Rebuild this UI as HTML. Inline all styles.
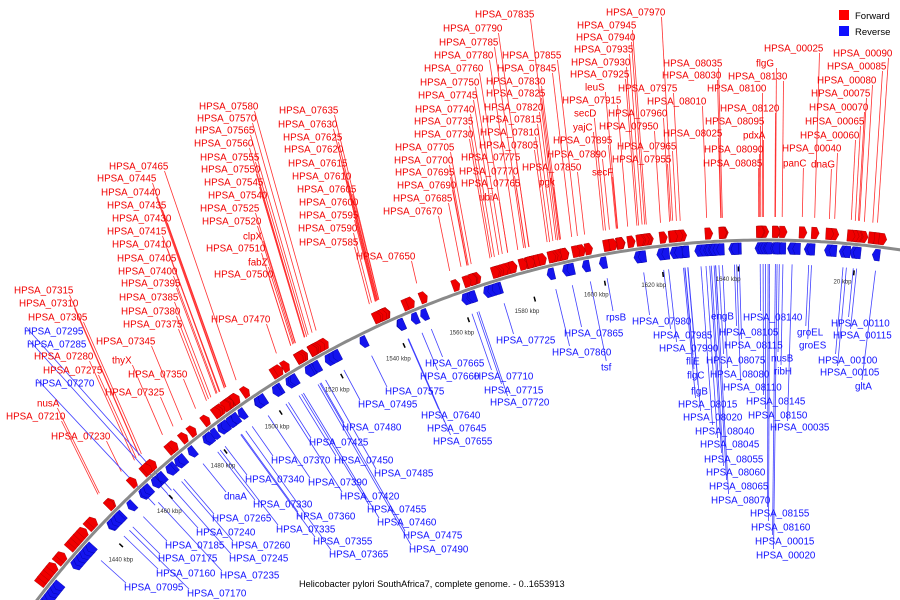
<!DOCTYPE html>
<html><head><meta charset="utf-8">
<style>
html,body{margin:0;padding:0;background:#fff;overflow:hidden;}
#wrap{position:relative;width:900px;height:600px;overflow:hidden;}
svg{overflow:hidden;display:block;}
svg text{font-family:"Liberation Sans",sans-serif;}
</style></head>
<body>
<div id="wrap">
<svg id="chart" width="900" height="600" viewBox="0 0 900 600" xmlns="http://www.w3.org/2000/svg">
<g id="lines"></g>
<g id="genes"></g>
<path id="backbone" fill="none" stroke="#8a8a8a" stroke-width="3"/>
<g id="ticks"></g>
<g id="labels"></g>
<g>
<rect x="839" y="10" width="10" height="10" fill="#ff0000"/>
<text x="855" y="19" font-size="9.5" fill="#000">Forward</text>
<rect x="839" y="26" width="10" height="10" fill="#1010ff"/>
<text x="855" y="35" font-size="9.5" fill="#000">Reverse</text>
</g>
<text x="299" y="587" font-size="9.2" fill="#000">Helicobacter pylori SouthAfrica7, complete genome. - 0..1653913</text>
</svg>
</div>
<script>
// gene label text, left x, center y
const redLabels = [
["HPSA_07835",475,14],["HPSA_07790",443,28],["HPSA_07785",439,42],["HPSA_07780",434,55],["HPSA_07760",424,68],
["HPSA_07750",420,82],["HPSA_07745",418,95],["HPSA_07740",415,109],["HPSA_07735",414,121],["HPSA_07730",414,134],
["HPSA_07705",395,147],["HPSA_07700",394,160],["HPSA_07695",395,172],["HPSA_07690",397,185],["HPSA_07685",393,198],
["HPSA_07670",383,211],["HPSA_07855",502,55],["HPSA_07845",497,68],["HPSA_07830",486,81],["HPSA_07825",486,93],
["HPSA_07820",484,107],["HPSA_07815",482,119],["HPSA_07810",480,132],["HPSA_07805",479,145],["HPSA_07775",461,157],
["HPSA_07770",459,171],["HPSA_07765",461,183],["ubiA",479,197],["HPSA_07850",522,167],["pgk",539,182],
["HPSA_07970",606,12],["HPSA_07945",577,25],["HPSA_07940",576,37],["HPSA_07935",574,49],["HPSA_07930",571,62],
["HPSA_07925",570,74],["leuS",585,87],["HPSA_07915",562,100],["secD",574,113],["yajC",573,127],
["HPSA_07895",553,140],["HPSA_07890",547,154],["secF",592,172],["HPSA_07975",618,88],["HPSA_07960",608,113],
["HPSA_07950",599,126],["HPSA_07965",617,146],["HPSA_07955",612,159],["HPSA_08010",647,101],["HPSA_08035",663,63],
["HPSA_08030",662,75],["HPSA_08025",663,133],["HPSA_00025",764,48],["flgG",756,63],["HPSA_08130",728,76],
["HPSA_08100",707,88],["HPSA_08120",720,108],["HPSA_08095",705,121],["pdxA",743,135],["HPSA_08090",704,149],
["HPSA_08085",703,163],["HPSA_00090",833,53],["HPSA_00085",827,66],["HPSA_00080",817,80],["HPSA_00075",811,93],
["HPSA_00070",809,107],["HPSA_00065",805,121],["HPSA_00060",800,135],["HPSA_00040",782,148],["panC",783,163],
["dnaG",811,164],["HPSA_07580",199,106],["HPSA_07570",197,118],["HPSA_07565",195,130],["HPSA_07560",194,143],
["HPSA_07555",200,157],["HPSA_07550",201,169],["HPSA_07545",204,182],["HPSA_07540",208,195],["HPSA_07525",200,208],
["HPSA_07520",202,221],["clpX",243,236],["HPSA_07510",206,248],["fabZ",248,262],["HPSA_07500",214,274],
["HPSA_07635",279,110],["HPSA_07630",278,124],["HPSA_07625",283,137],["HPSA_07620",284,149],["HPSA_07615",288,163],
["HPSA_07610",292,176],["HPSA_07605",297,189],["HPSA_07600",299,202],["HPSA_07595",299,215],["HPSA_07590",298,228],
["HPSA_07585",299,242],["HPSA_07650",356,256],["HPSA_07465",109,166],["HPSA_07445",97,178],["HPSA_07440",101,192],
["HPSA_07435",107,205],["HPSA_07430",112,218],["HPSA_07415",107,231],["HPSA_07410",112,244],["HPSA_07405",117,258],
["HPSA_07400",118,271],["HPSA_07395",121,283],["HPSA_07385",119,297],["HPSA_07380",121,311],["HPSA_07375",123,324],
["HPSA_07470",211,319],["HPSA_07315",14,290],["HPSA_07310",19,303],["HPSA_07305",28,317],["HPSA_07280",34,356],
["HPSA_07275",43,370],["HPSA_07345",96,341],["thyX",112,360],["HPSA_07350",128,374],["HPSA_07325",105,392],
["nusA",37,403],["HPSA_07210",6,416],["HPSA_07230",51,436]
];
const blueLabels = [
["HPSA_07295",24,331],["HPSA_07285",27,344],["HPSA_07270",35,383],
["HPSA_07495",358,404],["HPSA_07480",342,427],["HPSA_07425",309,442],["HPSA_07370",271,460],["HPSA_07450",334,460],
["HPSA_07485",374,473],["HPSA_07340",245,479],["HPSA_07390",308,482],["dnaA",224,496],["HPSA_07420",340,496],
["HPSA_07330",253,504],["HPSA_07455",367,509],["HPSA_07265",212,518],["HPSA_07360",296,516],["HPSA_07460",377,522],
["HPSA_07335",276,529],["HPSA_07240",196,532],["HPSA_07355",313,541],["HPSA_07475",403,535],["HPSA_07185",165,545],
["HPSA_07260",231,545],["HPSA_07365",329,554],["HPSA_07490",409,549],["HPSA_07175",158,558],["HPSA_07245",229,558],
["HPSA_07160",156,573],["HPSA_07235",220,575],["HPSA_07095",124,587],["HPSA_07170",187,593],["HPSA_07575",385,391],
["HPSA_07665",425,363],["HPSA_07660",420,376],["HPSA_07640",421,415],["HPSA_07645",427,428],["HPSA_07655",433,441],
["HPSA_07710",474,376],["HPSA_07715",484,390],["HPSA_07720",490,402],["HPSA_07725",496,340],["HPSA_07865",564,333],
["HPSA_07860",552,352],["tsf",601,367],["rpsB",606,317],["HPSA_07980",632,321],["HPSA_07985",653,335],
["HPSA_07990",659,348],["fliE",686,361],["flgC",687,375],["flgB",691,391],["HPSA_08015",678,404],
["HPSA_08020",683,417],["HPSA_08040",695,431],["HPSA_08045",700,444],["HPSA_08055",704,459],["HPSA_08060",706,472],
["HPSA_08065",709,486],["HPSA_08070",711,500],["engB",711,316],["HPSA_08140",743,317],["HPSA_08105",719,332],
["HPSA_08115",724,345],["HPSA_08075",706,360],["HPSA_08080",710,374],["HPSA_08110",723,387],["nusB",771,358],
["ribH",774,371],["HPSA_08145",746,401],["HPSA_08150",748,415],["HPSA_00035",770,427],["groEL",797,332],
["groES",799,345],["HPSA_08155",750,513],["HPSA_08160",751,527],["HPSA_00015",755,541],["HPSA_00020",756,555],
["HPSA_00110",831,323],["HPSA_00115",833,335],["HPSA_00100",818,360],["HPSA_00105",820,372],["gltA",855,386]
];
// unlabeled genes (angle from vertical, radians)
const extraRed = [-0.90,-0.895,-0.89,-0.885,-0.88,-0.87,-0.865,-0.85,-0.845,-0.84,-0.835,-0.83,-0.82,-0.815,-0.7,-0.695,-0.56,-0.555,-0.4,-0.395,-0.25,-0.245,0.12,0.125];
const extraBlue = [-0.93,-0.925,-0.92,-0.915,-0.91,-0.905,-0.9,-0.895,-0.89,-0.86,-0.855,-0.85,-0.845,-0.84,-0.835,-0.8,-0.795,-0.79,-0.75,-0.745,-0.7,-0.695,-0.64,-0.635,-0.59,-0.585,-0.5,-0.495,-0.49,-0.31,-0.305,-0.3,-0.22,-0.215,-0.14,-0.135,-0.1,-0.095,0.03,0.035,0.07,0.075];
const tickLabels = ["1440 kbp","1460 kbp","1480 kbp","1500 kbp","1520 kbp","1540 kbp","1560 kbp","1580 kbp","1600 kbp","1620 kbp","1640 kbp","20 kbp"];
const tickAngles = [-0.823,-0.745,-0.665,-0.589,-0.509,-0.431,-0.353,-0.275,-0.194,-0.128,-0.043,0.087];

const NS="http://www.w3.org/2000/svg";
const CX=766, CY=1158, R=918;
function P(t,d){ return [CX+(R+d)*Math.sin(t), CY-(R+d)*Math.cos(t)]; }
function angOf(x,y){ return Math.atan2(x-CX, CY-y); }
function mk(tag,attrs,parent){const e=document.createElementNS(NS,tag);for(const k in attrs)e.setAttribute(k,attrs[k]);parent.appendChild(e);return e;}

let d="";
for(let t=-1.0;t<=0.25;t+=0.004){const p=P(t,0);d+=(d?"L":"M")+p[0].toFixed(1)+" "+p[1].toFixed(1);}
document.getElementById('backbone').setAttribute('d',d);

const gG=document.getElementById('genes'), gL=document.getElementById('lines'), gT=document.getElementById('labels'), gK=document.getElementById('ticks');
const W=0.0055;
function gene(t,fwd){
  const d0=fwd?2.5:-2.5, d1=fwd?14:-14, a=t-W/2, b=t+W/2;
  const tip=fwd?b+0.003:a-0.003;
  let pts;
  if(fwd) pts=[P(a,d0),P(b,d0),P(tip,(d0+d1)/2),P(b,d1),P(a,d1)];
  else pts=[P(b,d0),P(a,d0),P(tip,(d0+d1)/2),P(a,d1),P(b,d1)];
  const e=mk('polygon',{points:pts.map(p=>p[0].toFixed(1)+","+p[1].toFixed(1)).join(" "),fill:fwd?"#f00000":"#1414ee",stroke:fwd?"#a00000":"#0000a0","stroke-width":"0.4"},gG);
  
  
}
function label(item,fwd){
  const [txt,x,cy]=item;
  const w=txt.length*5.85;
  const t=mk('text',{x:x,y:cy+3.5,"font-size":"9.8",fill:fwd?"#f00000":"#1010ff"},gT);
  t.textContent=txt;
  
  
  let ax,ay;
  if(fwd){ax=x+w-3;ay=cy+5;} else { if(x<420){ax=x+2;ay=cy-4;} else {ax=x+w*0.3;ay=cy-6;} }
  let ex=ax, ey=ay;
  if(fwd){
    let rx=CX-ax, ry=CY-ay, n=Math.hypot(rx,ry); rx/=n; ry/=n;
    let dx=0.6*rx, dy=0.6*ry+0.4; n=Math.hypot(dx,dy); dx/=n; dy/=n;
    for(let i=0;i<900;i++){ if(Math.hypot(ex-CX,ey-CY)<=R+24) break; ex+=dx; ey+=dy; }
  } else {
    const th=angOf(ax,ay); const p=P(th,-24); ex=p[0]; ey=p[1];
  }
  const l=mk('line',{x1:ax,y1:ay,x2:ex.toFixed(1),y2:ey.toFixed(1),stroke:fwd?"#ff3030":"#4040ff","stroke-width":"0.8"},gL);
  
  
  gene(angOf(ex,ey),fwd);
}
redLabels.forEach(it=>label(it,true));
blueLabels.forEach(it=>label(it,false));
extraRed.forEach(t=>gene(t,true));
extraBlue.forEach(t=>gene(t,false));
tickLabels.forEach((s,i)=>{
  const p=P(tickAngles[i],-38);
  const t=mk('text',{x:p[0].toFixed(1),y:(p[1]+2).toFixed(1),"font-size":"6","text-anchor":"middle",fill:"#333"},gK);
  t.textContent=s;
  
  
  const q1=P(tickAngles[i]+0.012,-26), q2=P(tickAngles[i]+0.012,-31);
  const m=mk('line',{x1:q1[0],y1:q1[1],x2:q2[0],y2:q2[1],stroke:"#000","stroke-width":"1.5"},gK);
  
  
});
</script>
</body></html>
